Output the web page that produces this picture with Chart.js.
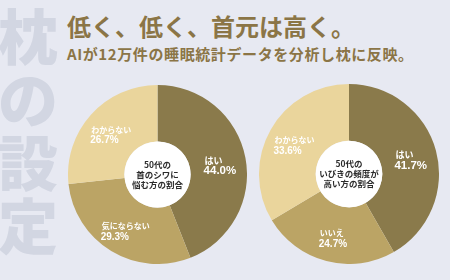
<!DOCTYPE html>
<html>
<head>
<meta charset="utf-8">
<script src="https://cdn.jsdelivr.net/npm/chart.js@4"></script>
<style>
  body { margin: 0; background: #e7e9f2; }
  #wrap { position: relative; width: 450px; height: 280px; overflow: hidden; background: #e7e9f2;
          font-family: "Noto Sans CJK JP", sans-serif; }
  #side { position: absolute; left: -2px; top: 2px; width: 60px; font-size: 60px; line-height: 63px;
          font-weight: 900; color: #d2d6e2; text-align: center; }
  #title { position: absolute; left: 67px; top: 14px; font-size: 24px; line-height: 24px;
           font-weight: bold; color: #8b7546; white-space: nowrap; }
  #sub { position: absolute; left: 67px; top: 46px; font-size: 15px; line-height: 15px;
         font-weight: bold; color: #8b7546; white-space: nowrap; letter-spacing: 0.6px; }
  canvas { position: absolute; }
</style>
</head>
<body>
<div id="wrap">
  <div id="side">枕<br>の<br>設<br>定</div>
  <div id="title">低く、低く、首元は高く。</div>
  <div id="sub">AIが12万件の睡眠統計データを分析し枕に反映。</div>
  <canvas id="wrinkle" width="179" height="179" style="left:68px;top:85px"></canvas>
  <canvas id="snore" width="180" height="180" style="left:259px;top:84px"></canvas>
</div>
<script>
// data
var wrinkleLabels = ["はい", "気にならない", "わからない"];
var wrinkleValues = [44.0, 29.3, 26.7];
var wrinkleTitle = ["50代の", "首のシワに", "悩む方の割合"];

var snoreLabels = ["はい", "いいえ", "わからない"];
var snoreValues = [41.7, 24.7, 33.6];
var snoreTitle = ["50代の", "いびきの頻度が", "高い方の割合"];

var sliceColors = ["#8a7a4b", "#bba465", "#ead59c"];

// white hole + center caption + slice labels
var pieText = {
    id: "pieText",
    afterDatasetsDraw: function(chart, args, opts) {
        var ctx = chart.ctx;
        var arcs = chart.getDatasetMeta(0).data;
        var cx = arcs[0].x, cy = arcs[0].y;
        var outer = arcs[0].outerRadius, inner = arcs[0].innerRadius;

        ctx.save();
        ctx.fillStyle = "#ffffff";
        ctx.beginPath();
        ctx.arc(cx, cy, inner, 0, Math.PI * 2);
        ctx.fill();

        ctx.fillStyle = "#2b2b2b";
        ctx.textAlign = "center";
        ctx.textBaseline = "middle";
        ctx.font = "bold 8.5px 'Noto Sans CJK JP'";
        opts.title.forEach(function(line, i) {
            ctx.fillText(line, cx, cy + (i - 1) * 10);
        });

        var values = chart.data.datasets[0].data;
        var labels = chart.data.labels;
        arcs.forEach(function(arc, i) {
            var mid = (arc.startAngle + arc.endAngle) / 2;
            var r = outer * 0.71;
            var x = cx + Math.cos(mid) * r;
            var y = cy + Math.sin(mid) * r + 3;
            var big = i == 0;
            var labFont = "bold " + (big ? 9 : 8) + "px 'Noto Sans CJK JP'";
            var pctFont = "bold " + (big ? 11.5 : 10) + "px 'Liberation Sans'";
            var pct = values[i].toFixed(1) + "%";
            ctx.font = labFont;
            var w1 = ctx.measureText(labels[i]).width;
            ctx.font = pctFont;
            var w2 = ctx.measureText(pct).width;
            var left = x - Math.max(w1, w2) / 2;
            ctx.fillStyle = "#ffffff";
            ctx.textAlign = "left";
            ctx.font = labFont;
            ctx.fillText(labels[i], left + 1, y - 5.5);
            ctx.font = pctFont;
            ctx.fillText(pct, left, y + 5.5);
        });
        ctx.restore();
    }
};

function makePie(id, labels, values, title) {
    new Chart(document.getElementById(id), {
        type: "doughnut",
        data: {
            labels: labels,
            datasets: [{
                data: values,
                backgroundColor: sliceColors,
                borderWidth: 0,
                hoverOffset: 0
            }]
        },
        options: {
            responsive: false,
            animation: false,
            cutout: "37%",
            layout: { padding: 0 },
            plugins: {
                legend: { display: false },
                tooltip: { enabled: false },
                pieText: { title: title }
            }
        },
        plugins: [pieText]
    });
}

makePie("wrinkle", wrinkleLabels, wrinkleValues, wrinkleTitle);
makePie("snore", snoreLabels, snoreValues, snoreTitle);
</script>
</body>
</html>
